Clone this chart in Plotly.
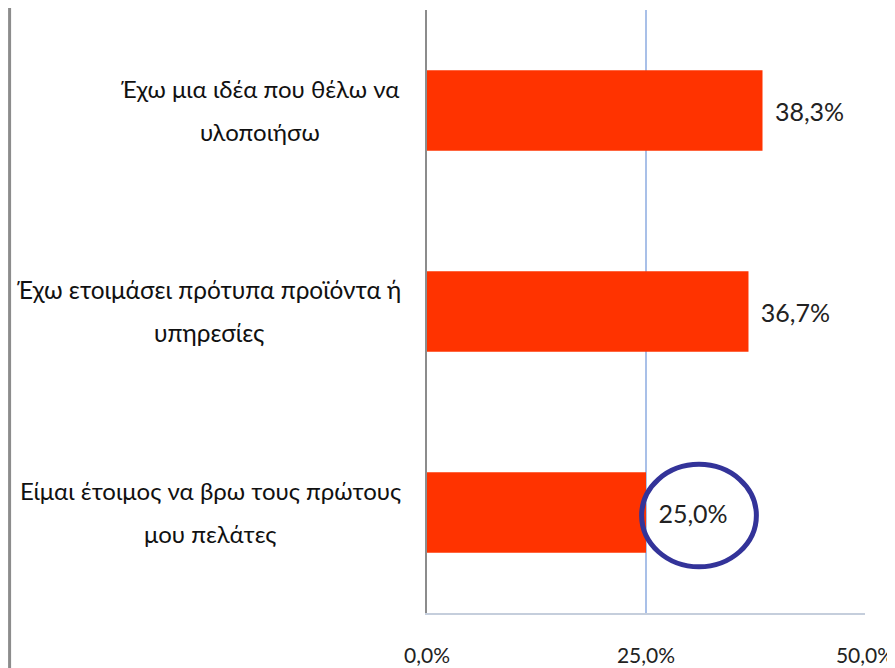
import plotly.graph_objects as go

categories = [
    "Είμαι έτοιμος να βρω τους πρώτους μου πελάτες",
    "Έχω ετοιμάσει πρότυπα προϊόντα ή υπηρεσίες",
    "Έχω μια ιδέα που θέλω να υλοποιήσω",
]
label_line1 = [
    "Είμαι έτοιμος να βρω τους πρώτους",
    "Έχω ετοιμάσει πρότυπα προϊόντα ή",
    "Έχω μια ιδέα που θέλω να",
]
label_line2 = [
    "μου πελάτες",
    "υπηρεσίες",
    "υλοποιήσω",
]
values = [25.0, 36.7, 38.3]
tick_vals = [0, 25, 50]
tick_text = ["0,0%", "25,0%", "50,0%"]

# horizontal centre of each two-line label, in pixels left of the plot area
label_center_px = [217, 218, 167]
label_sizes = [24, 24.4, 24]

FONT = "Lato"
PLOT_W = 438

fig = go.Figure()
fig.add_trace(go.Bar(
    y=categories, x=values, orientation="h",
    marker=dict(color="#ff3300", line=dict(width=0)),
    texttemplate="\u2009\u2009\u2009%{x:.1f}%", textposition="outside",
    textfont=dict(family=FONT, size=25, color="#222222"),
    cliponaxis=False,
))

for c, l1, l2, off, fs in zip(categories, label_line1, label_line2, label_center_px, label_sizes):
    for txt, ys in ((l1, 22), (l2, -21)):
        fig.add_annotation(
            text=txt, xref="paper", yref="y", x=-off / PLOT_W, y=c, yshift=ys,
            xanchor="center", yanchor="middle", align="center", showarrow=False,
            font=dict(family=FONT, size=fs, color="#111111"),
        )

# circle highlight around the 25,0% label
fig.add_shape(type="circle", xref="x", yref="y", x0=24.5, x1=37.6, y0=-0.27, y1=0.24,
              line=dict(color="#333399", width=5))
# left frame border
fig.add_shape(type="line", xref="paper", yref="paper", x0=-0.953, x1=-0.953, y0=-0.1, y1=1.1,
              line=dict(color="#8c8c8c", width=3))

fig.update_layout(
    width=887, height=660,
    margin=dict(l=419, r=30, t=2, b=55),
    plot_bgcolor="white", paper_bgcolor="white",
    separators=",.",
    bargap=0.6,
    showlegend=False,
    xaxis=dict(
        range=[0, 50], tickvals=tick_vals, ticktext=tick_text,
        showgrid=True, gridcolor="#a9c0e8", gridwidth=1.5,
        showline=True, linecolor="#c5cedc", linewidth=2,
        zeroline=False, ticks="", ticklabelstandoff=23, automargin=False,
        tickfont=dict(family=FONT, size=21, color="#222222"),
    ),
    yaxis=dict(
        range=[-0.5, 2.5], showticklabels=False, showgrid=False, automargin=False,
        showline=True, linecolor="#8c8c8c", linewidth=1.5, zeroline=False, ticks="",
    ),
)

fig.write_html("out.html")
